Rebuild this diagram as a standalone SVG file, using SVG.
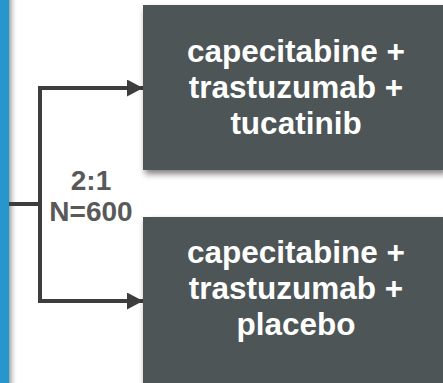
<svg xmlns="http://www.w3.org/2000/svg" width="443" height="383" viewBox="0 0 443 383">
<defs>
<style>
.box{fill:#4e5557;}
.bt{font-family:"Liberation Sans",Arial,sans-serif;font-weight:bold;font-size:31.5px;fill:#ffffff;text-anchor:middle;}
.lbl{font-family:"Liberation Sans",Arial,sans-serif;font-weight:bold;font-size:28px;fill:#595959;text-anchor:middle;}
.conn{fill:none;stroke:#3d3d3d;stroke-width:4;}
</style>
<linearGradient id="bshade" x1="0" y1="0" x2="1" y2="0">
<stop offset="0" stop-color="#8a8a8a" stop-opacity="0.8"/>
<stop offset="1" stop-color="#ffffff" stop-opacity="0"/>
</linearGradient>
<filter id="sh" x="-10%" y="-10%" width="130%" height="140%">
<feGaussianBlur in="SourceAlpha" stdDeviation="3"/>
<feOffset dx="2" dy="4" result="b"/>
<feComponentTransfer><feFuncA type="linear" slope="0.5"/></feComponentTransfer>
<feMerge><feMergeNode/><feMergeNode in="SourceGraphic"/></feMerge>
</filter>
<marker id="arr" viewBox="0 0 16 17" refX="16" refY="8.5" markerUnits="userSpaceOnUse" markerWidth="16" markerHeight="17" orient="auto">
<path d="M0,0 L16,8.5 L0,17 Z" fill="#3d3d3d"/>
</marker>
</defs>
<rect width="443" height="383" fill="#ffffff"/>
<g id="bar">
<rect x="9" y="0" width="9" height="383" fill="url(#bshade)"/>
<rect x="0" y="0" width="9" height="383" fill="#2596ce"/>
</g>
<g id="connectors">
<path class="conn" d="M9,204 H40"/>
<path class="conn" d="M40,88 V301"/>
<path class="conn" d="M38,88 H143" marker-end="url(#arr)"/>
<path class="conn" d="M38,301 H143" marker-end="url(#arr)"/>
</g>
<g id="ratio">
<text class="lbl" x="91" y="190">2:1</text>
<text class="lbl" x="91" y="221">N=600</text>
</g>
<g id="arm1">
<rect class="box" x="143" y="5" width="302" height="165" filter="url(#sh)"/>
<text class="bt" x="296" y="62">capecitabine +</text>
<text class="bt" x="296" y="98">trastuzumab +</text>
<text class="bt" x="296" y="134">tucatinib</text>
</g>
<g id="arm2">
<rect class="box" x="143" y="217" width="302" height="170" filter="url(#sh)"/>
<text class="bt" x="296" y="263">capecitabine +</text>
<text class="bt" x="296" y="299">trastuzumab +</text>
<text class="bt" x="296" y="335">placebo</text>
</g>
</svg>
